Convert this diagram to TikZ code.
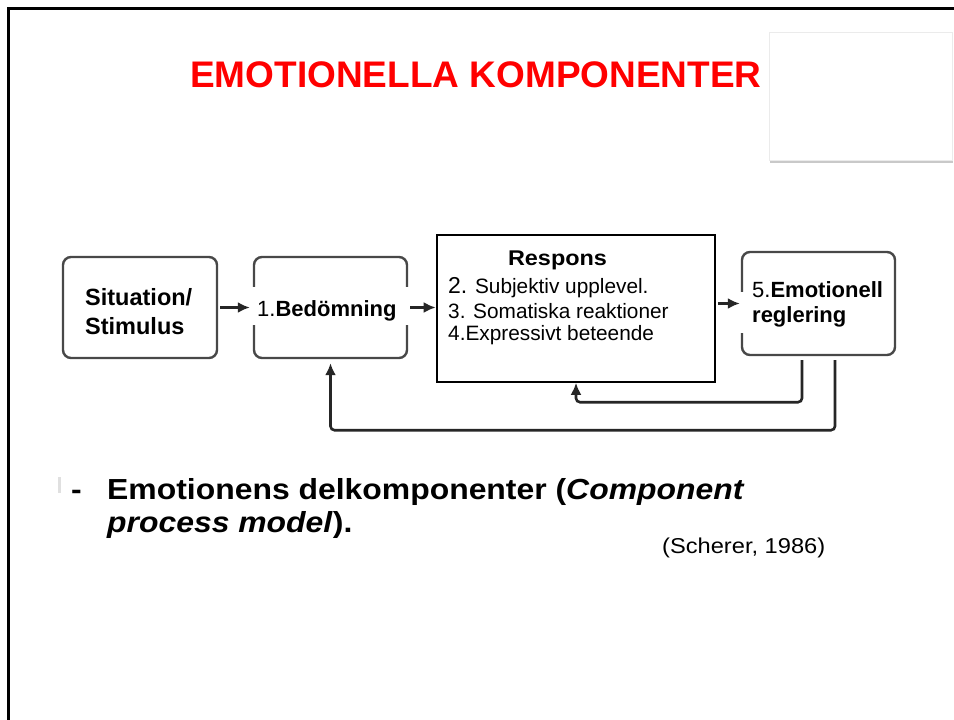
\documentclass[tikz,border=0pt]{standalone}
\usepackage{fontspec}
\setmainfont{Liberation Sans}
\newfontfamily\ws[FakeStretch=1.1]{Liberation Sans}
\usetikzlibrary{arrows.meta,shadows}
\definecolor{slidered}{RGB}{255,0,0}
\definecolor{boxgray}{RGB}{72,72,72}
\begin{document}
\begin{tikzpicture}[x=1pt,y=-1pt,
  rbox/.style={draw=boxgray,line width=2.4pt,rounded corners=8pt,inner sep=0pt},
  sbox/.style={draw=black,line width=1.6pt,inner sep=0pt},
  lbl/.style={anchor=base west,inner sep=0pt},
  arr/.style={line width=2.6pt,draw=black!85,-{Latex[length=12pt,width=11pt]}},
  fb/.style={line width=2.6pt,draw=black!85,rounded corners=4pt,-{Latex[length=12pt,width=11pt]}},
  bsf/.style={font=\ws\fontsize{#1}{#1}\selectfont\bfseries},
  rsf/.style={font=\ws\fontsize{#1}{#1}\selectfont},
  bnf/.style={font=\fontsize{#1}{#1}\selectfont\bfseries},
  rnf/.style={font=\fontsize{#1}{#1}\selectfont}
]
\useasboundingbox (0,0) rectangle (954,720);
\fill[white] (0,0) rectangle (954,720);
% slide frame
\draw[line width=3pt] (8.8,720) -- (8.8,8.8) -- (954,8.8);

% title
\node[anchor=base,inner sep=0pt,text=slidered,font=\fontsize{37}{40}\selectfont\bfseries] (title) at (476,87) {EMOTIONELLA KOMPONENTER};

% blank placeholder with shadow
\node[draw=black!8,fill=white,minimum width=183pt,minimum height=128pt,inner sep=0pt,
  drop shadow={shadow xshift=0.5pt,shadow yshift=-3pt,opacity=0.35,fill=black!60}] (blank) at (860.5,96) {};

% boxes
\node[rbox,minimum width=154pt,minimum height=101pt] (b1) at (140,307.5) {};
\node[rbox,minimum width=153pt,minimum height=101pt] (b2) at (330.5,307.5) {};
\node[sbox,minimum width=278pt,minimum height=147pt] (b3) at (576,308.5) {};
\node[rbox,minimum width=153pt,minimum height=103pt] (b4) at (818.5,303.5) {};

% white patches of the scan
\fill[white] (249,287) rectangle (411,325);
\fill[white] (738,292) rectangle (750,333);

% box texts
\node[lbl,bnf=23.5] (t1a) at (85,305) {Situation/};
\node[lbl,bnf=23.5] (t1b) at (85,334) {Stimulus};
\node[lbl,rnf=22] (t2) at (257,316) {1.\textbf{Bedömning}};
\node[anchor=base,inner sep=0pt,bsf=21.3] (t3h) at (557.5,265) {Respons};
\node[lbl,rnf=20.8] (t3a) at (448,293) {{\fontsize{23}{23}\selectfont 2.} Subjektiv upplevel.};
\node[lbl,rnf=20.8] (t3b) at (448,318) {3. Somatiska reaktioner};
\node[lbl,rnf=20.8] (t3c) at (448,340) {4.Expressivt beteende};
\node[lbl,rnf=22] (t4a) at (752,297) {5.\textbf{Emotionell}};
\node[lbl,bnf=22] (t4b) at (752,322) {reglering};

% arrows
\draw[arr,shorten <=2pt,shorten >=3pt] (b1.east) -- (b2.west);
\draw[arr,shorten <=2pt,shorten >=0.5pt] (b2.east) -- (b2.east -| b3.west);
\draw[arr,shorten <=2pt,shorten >=1pt] (b3.east |- b4.west) -- (b4.west);
\draw[fb,shorten <=4pt] ([xshift=-16.5pt]b4.south) -- ++(0,46) -| (b3.south);
\draw[fb,shorten <=4pt,shorten >=4pt] ([xshift=16.5pt]b4.south) -- ++(0,74) -| (b2.south);

% bullet text
\fill[black!12] (58,477) rectangle (61,493);
\node[lbl,bsf=29] (dash) at (71,499) {-};
\node[lbl,bsf=29] (l1) at (107,499) {Emotionens delkomponenter (\textit{Component}};
\node[lbl,bsf=29] (l2) at (107,532) {\textit{process model}).};
\node[lbl,rsf=21.5] (ref) at (662,553) {(Scherer, 1986)};
\end{tikzpicture}
\end{document}
